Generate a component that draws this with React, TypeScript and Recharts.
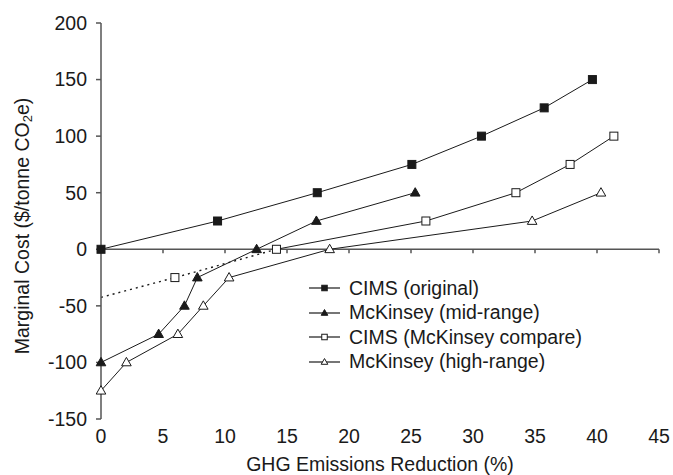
import { LineChart, Line, XAxis, YAxis, ReferenceLine } from 'recharts'

const FONT = '"Liberation Sans", Arial, Helvetica, sans-serif'
const INK = '#1a1a1a'
const AXIS = '#555'

const xTicks = [0, 5, 10, 15, 20, 25, 30, 35, 40, 45]
const yTicks = [-150, -100, -50, 0, 50, 100, 150, 200]

// CIMS (original)
const cimsOriginalX = [0, 9.4, 17.44, 25.07, 30.68, 35.74, 39.63]
const cimsOriginalY = [0, 25, 50, 75, 100, 125, 150]
// McKinsey (mid-range)
const mckMidX = [0, 4.65, 6.73, 7.77, 12.55, 17.37, 25.34]
const mckMidY = [-100, -75, -50, -25, 0, 25, 50]
// CIMS (McKinsey compare)
const cimsCompareX = [5.96, 14.15, 26.2, 33.46, 37.83, 41.36]
const cimsCompareY = [-25, 0, 25, 50, 75, 100]
// dotted lead-in of CIMS (McKinsey compare)
const dottedX = [0, 5.96, 14.15]
const dottedY = [-42.5, -25, 0]
// McKinsey (high-range)
const mckHighX = [0, 2.05, 6.2, 8.25, 10.33, 18.44, 34.77, 40.32]
const mckHighY = [-125, -100, -75, -50, -25, 0, 25, 50]

const zip = (xs: number[], ys: number[]) => xs.map((x, i) => ({ x, y: ys[i] }))

// the solid compare line starts at the zero crossing, the first square sits on the dotted part
const compareSolid = zip(cimsCompareX, cimsCompareY).slice(1)
const compareFirst = zip(cimsCompareX, cimsCompareY).slice(0, 1)

type Kind = 'square' | 'triangle' | 'openSquare' | 'openTriangle'

function Marker({ cx, cy, kind, size }: { cx?: number; cy?: number; kind: Kind; size: number }) {
  if (cx == null || cy == null || isNaN(cx) || isNaN(cy)) return null
  const filled = kind === 'square' || kind === 'triangle'
  const fill = filled ? INK : '#fff'
  if (kind === 'square' || kind === 'openSquare') {
    return (
      <rect
        x={cx - size / 2}
        y={cy - size / 2}
        width={size}
        height={size}
        fill={fill}
        stroke={INK}
        strokeWidth={1}
      />
    )
  }
  const w = size * 1.2
  const h = size * 1.05
  return (
    <polygon
      points={`${cx},${cy - h * 0.6} ${cx - w / 2},${cy + h * 0.4} ${cx + w / 2},${cy + h * 0.4}`}
      fill={fill}
      stroke={INK}
      strokeWidth={1}
    />
  )
}

const dotFor = (kind: Kind) => (p: any) => (
  <Marker key={`${kind}-${p.index}`} cx={p.cx} cy={p.cy} kind={kind} size={8} />
)

const legendItems: { label: string; kind: Kind }[] = [
  { label: 'CIMS (original)', kind: 'square' },
  { label: 'McKinsey (mid-range)', kind: 'triangle' },
  { label: 'CIMS (McKinsey compare)', kind: 'openSquare' },
  { label: 'McKinsey (high-range)', kind: 'openTriangle' },
]

function LegendBox() {
  return (
    <div
      style={{
        position: 'absolute',
        left: 305,
        top: 276,
        fontFamily: FONT,
        fontSize: 19.5,
        color: INK,
        lineHeight: 1,
      }}
    >
      {legendItems.map((it) => (
        <div key={it.label} style={{ display: 'flex', alignItems: 'center', height: 24.5 }}>
          <svg width={40} height={14} style={{ marginRight: 4 }}>
            <line x1={4} y1={7} x2={35} y2={7} stroke={INK} strokeWidth={1.2} />
            <Marker cx={19.5} cy={7} kind={it.kind} size={5.5} />
          </svg>
          <span style={{ whiteSpace: 'nowrap' }}>{it.label}</span>
        </div>
      ))}
    </div>
  )
}

function YTitle() {
  const cx = 22
  const cy = 226
  return (
    <text
      x={cx}
      y={cy}
      transform={`rotate(-90, ${cx}, ${cy})`}
      textAnchor="middle"
      dominantBaseline="central"
      fontSize={19.5}
      fill={INK}
      fontFamily={FONT}
    >
      Marginal Cost ($/tonne CO
      <tspan fontSize={13} dy={5}>
        2
      </tspan>
      <tspan dy={-5}>e)</tspan>
    </text>
  )
}

export default function App() {
  return (
    <div style={{ position: 'absolute', left: 0, top: 0, width: 673, height: 475, background: '#fff' }}>
      <LineChart
        width={673}
        height={475}
        margin={{ top: 23, right: 14, left: 0, bottom: 0 }}
        style={{ fontFamily: FONT }}
      >
        <XAxis
          dataKey="x"
          type="number"
          domain={[0, 45]}
          ticks={xTicks}
          allowDuplicatedCategory={false}
          axisLine={false}
          tickLine={false}
          tickSize={0}
          tickMargin={10}
          height={56}
          tick={{ fontSize: 19.5, fill: INK }}
          label={{
            value: 'GHG Emissions Reduction (%)',
            position: 'insideBottom',
            offset: 4,
            fontSize: 19.5,
            fill: INK,
          }}
        />
        <YAxis
          dataKey="y"
          type="number"
          domain={[-150, 200]}
          ticks={yTicks}
          width={101}
          interval={0}
          axisLine={{ stroke: AXIS, strokeWidth: 1.5 }}
          tickLine={{ stroke: AXIS, strokeWidth: 1.5 }}
          tickSize={5}
          tickMargin={9}
          tick={{ fontSize: 19.5, fill: INK }}
          label={{ content: () => <YTitle /> }}
        />
        <ReferenceLine y={0} stroke={AXIS} strokeWidth={1.5} />
        {xTicks.slice(1).map((t) => (
          <ReferenceLine
            key={`tick-${t}`}
            segment={[
              { x: t, y: 0 },
              { x: t, y: -3.6 },
            ]}
            stroke={AXIS}
            strokeWidth={1.5}
          />
        ))}
        <Line
          data={zip(dottedX, dottedY)}
          dataKey="y"
          stroke={INK}
          strokeWidth={1.4}
          strokeDasharray="2 4"
          dot={false}
          isAnimationActive={false}
        />
        <Line
          data={zip(mckHighX, mckHighY)}
          dataKey="y"
          name="McKinsey (high-range)"
          stroke={INK}
          strokeWidth={1}
          dot={dotFor('openTriangle')}
          isAnimationActive={false}
        />
        <Line
          data={compareSolid}
          dataKey="y"
          name="CIMS (McKinsey compare)"
          stroke={INK}
          strokeWidth={1}
          dot={dotFor('openSquare')}
          isAnimationActive={false}
        />
        <Line
          data={compareFirst}
          dataKey="y"
          stroke="none"
          dot={dotFor('openSquare')}
          isAnimationActive={false}
        />
        <Line
          data={zip(mckMidX, mckMidY)}
          dataKey="y"
          name="McKinsey (mid-range)"
          stroke={INK}
          strokeWidth={1}
          dot={dotFor('triangle')}
          isAnimationActive={false}
        />
        <Line
          data={zip(cimsOriginalX, cimsOriginalY)}
          dataKey="y"
          name="CIMS (original)"
          stroke={INK}
          strokeWidth={1}
          dot={dotFor('square')}
          isAnimationActive={false}
        />
      </LineChart>
      <LegendBox />
    </div>
  )
}
